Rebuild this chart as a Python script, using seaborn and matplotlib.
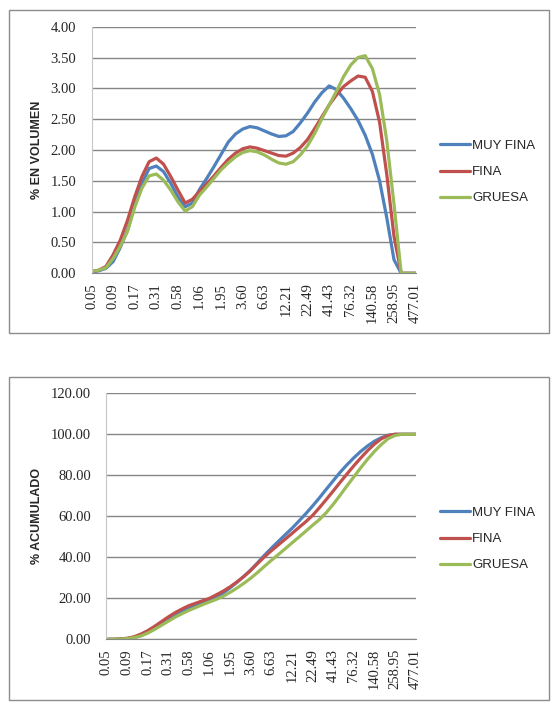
import numpy as np
import pandas as pd
import matplotlib
matplotlib.use('Agg')
import matplotlib.pyplot as plt
from matplotlib.patches import Rectangle
import seaborn as sns

# size classes (um) shown on the category axis, one label every 3 points
x_labels = ['0.05', '0.09', '0.17', '0.31', '0.58', '1.06', '1.95', '3.60', '6.63',
            '12.21', '22.49', '41.43', '76.32', '140.58', '258.95', '477.01']

series_names = ['MUY FINA', 'FINA', 'GRUESA']
colors = {'MUY FINA': '#4F81BD', 'FINA': '#C0504D', 'GRUESA': '#9BBB59'}

# % en volumen
muy_fina_vol = [0.02, 0.04, 0.08, 0.19, 0.42, 0.70, 1.10, 1.46, 1.70, 1.74, 1.65, 1.46, 1.24, 1.08, 1.14,
                1.36, 1.54, 1.73, 1.93, 2.13, 2.26, 2.34, 2.38, 2.36, 2.31, 2.26, 2.22, 2.23, 2.30, 2.44,
                2.60, 2.78, 2.93, 3.04, 2.98, 2.84, 2.67, 2.48, 2.24, 1.93, 1.50, 0.90, 0.22, 0.00, 0.00, 0.00]
fina_vol = [0.03, 0.05, 0.11, 0.30, 0.54, 0.86, 1.24, 1.57, 1.81, 1.87, 1.77, 1.57, 1.35, 1.14, 1.20,
            1.33, 1.45, 1.58, 1.72, 1.85, 1.95, 2.02, 2.05, 2.03, 1.99, 1.95, 1.91, 1.90, 1.95, 2.04,
            2.17, 2.35, 2.54, 2.73, 2.89, 3.03, 3.12, 3.20, 3.18, 2.95, 2.45, 1.60, 0.60, 0.00, 0.00, 0.00]
gruesa_vol = [0.03, 0.05, 0.09, 0.24, 0.44, 0.68, 1.07, 1.38, 1.58, 1.61, 1.51, 1.35, 1.16, 1.01, 1.08,
              1.27, 1.40, 1.54, 1.68, 1.79, 1.89, 1.96, 1.99, 1.97, 1.92, 1.85, 1.79, 1.77, 1.81, 1.92,
              2.07, 2.27, 2.51, 2.73, 2.95, 3.19, 3.38, 3.50, 3.53, 3.32, 2.90, 2.15, 1.12, 0.00, 0.00, 0.00]

# % acumulado
muy_fina_acum = [0.0, 0.0, 0.1, 0.3, 0.8, 1.8, 3.3, 5.2, 7.3, 9.5, 11.6, 13.4, 15.0, 16.4, 17.6,
                 18.8, 20.4, 22.6, 25.1, 27.8, 30.7, 33.8, 37.3, 41.0, 44.4, 47.7, 50.9, 54.1, 57.6, 61.2,
                 65.0, 69.0, 73.2, 77.3, 81.4, 85.1, 88.5, 91.6, 94.3, 96.6, 98.3, 99.5, 100.0, 100.0, 100.0, 100.0]
fina_acum = [0.0, 0.0, 0.2, 0.5, 1.2, 2.5, 4.2, 6.3, 8.6, 10.9, 13.0, 14.8, 16.4, 17.6, 18.8,
             20.0, 21.7, 23.5, 25.6, 28.0, 30.6, 33.6, 37.0, 40.2, 43.2, 46.0, 48.8, 51.6, 54.5, 57.3,
             60.4, 64.2, 68.2, 72.3, 76.5, 80.6, 84.6, 88.4, 92.0, 95.2, 97.8, 99.4, 100.0, 100.0, 100.0, 100.0]
gruesa_acum = [0.0, 0.0, 0.1, 0.3, 0.8, 1.6, 3.0, 4.8, 6.8, 8.8, 10.8, 12.5, 14.1, 15.5, 16.9,
               18.2, 19.5, 21.0, 22.9, 25.0, 27.3, 29.8, 32.6, 35.6, 38.5, 41.3, 44.1, 47.0, 49.8, 52.7,
               55.6, 58.4, 61.8, 65.8, 70.2, 74.8, 79.2, 83.6, 87.8, 91.6, 95.0, 97.9, 99.4, 100.0, 100.0, 100.0]

n_points = len(muy_fina_vol)
idx = np.arange(n_points)


def long_df(a, b, c):
    frames = []
    for name, vals in zip(series_names, [a, b, c]):
        frames.append(pd.DataFrame({'pos': idx, 'val': vals, 'serie': name}))
    return pd.concat(frames, ignore_index=True)


df_vol = long_df(muy_fina_vol, fina_vol, gruesa_vol)
df_acum = long_df(muy_fina_acum, fina_acum, gruesa_acum)

sns.set_style('white')
plt.rcParams['font.family'] = ['Liberation Sans', 'DejaVu Sans']

W, H = 555, 723
fig = plt.figure(figsize=(W / 100, H / 100), dpi=100)

# grey frames around each chart
for (x0, y0, x1, y1) in [(9, 10, 549, 333), (9, 377, 549, 700)]:
    fig.patches.append(Rectangle((x0 / W, 1 - y1 / H), (x1 - x0) / W, (y1 - y0) / H,
                                 transform=fig.transFigure, fill=False,
                                 edgecolor='#8C8C8C', linewidth=1.0))


def draw(df, box, ymax, ystep, ylabel, label_x, legend_y):
    l, t, r, b = box
    ax = fig.add_axes([l / W, 1 - b / H, (r - l) / W, (b - t) / H])
    sns.lineplot(data=df, x='pos', y='val', hue='serie', palette=colors,
                 hue_order=series_names, linewidth=2.3, ax=ax, legend=True)
    handles, labels = ax.get_legend_handles_labels()
    ax.get_legend().remove()
    fig.legend(handles, labels, loc='center left',
               bbox_to_anchor=(440 / W, 1 - legend_y / H),
               frameon=False, fontsize=9.5, handlelength=2.3, handletextpad=0.15,
               labelspacing=1.05, borderpad=0, borderaxespad=0)

    ax.set_xlim(0, n_points - 1)
    ax.set_ylim(0, ymax)
    ax.set_xticks(np.arange(0, n_points, 3))
    ax.set_xticklabels(x_labels, rotation=90, fontsize=10.5, family='Liberation Serif')
    yt = np.arange(0, ymax + ystep / 2, ystep)
    ax.set_yticks(yt)
    ax.set_yticklabels(['%.2f' % v for v in yt], fontsize=10.5, family='Liberation Serif')
    ax.tick_params(axis='both', length=0)
    ax.tick_params(axis='y', pad=11)
    ax.tick_params(axis='x', pad=7)
    ax.grid(axis='y', color='#868686', linewidth=1.0)
    ax.grid(axis='x', visible=False)
    ax.set_axisbelow(True)
    for s in ['top', 'right']:
        ax.spines[s].set_visible(False)
    ax.spines['left'].set_color('#C8C8C8')
    ax.spines['bottom'].set_color('#868686')
    ax.set_xlabel('')
    ax.set_ylabel(ylabel, fontsize=9, fontweight='bold')
    ax.yaxis.set_label_coords((label_x - l) / (r - l), 0.5)
    return ax


draw(df_vol, (91.5, 26.7, 415.6, 273.3), 4.0, 0.5, '% EN VOLUMEN', 43, 172)
draw(df_acum, (106.4, 393.3, 415.6, 639.3), 120.0, 20.0, '% ACUMULADO', 43, 539)

fig.savefig('out.png', dpi=100)
